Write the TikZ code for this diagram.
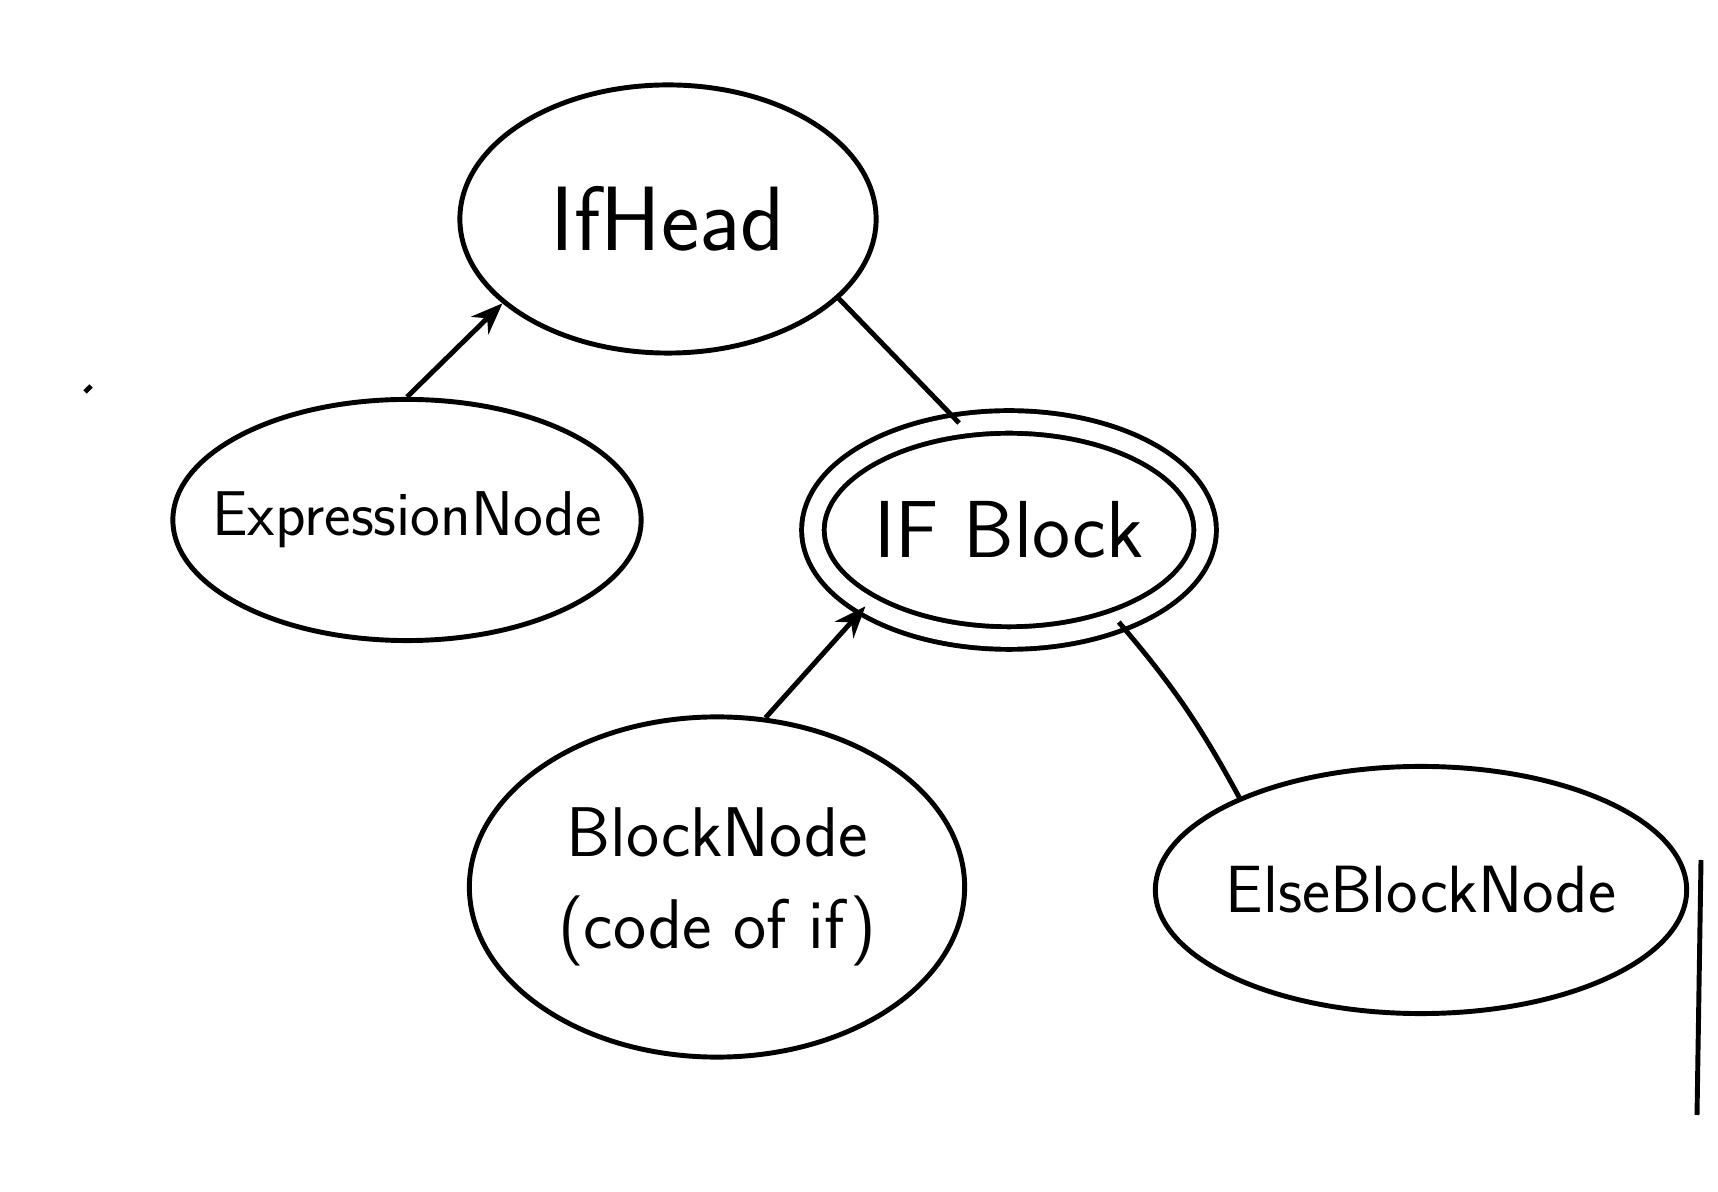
\documentclass[tikz,border=0pt]{standalone}
\usepackage{tikz}
\usetikzlibrary{shapes.geometric,arrows.meta}

\tikzset{
  oval/.style={draw, ellipse, inner sep=-4mm, align=center},
  arr/.style={-{Stealth[length=9pt,width=7pt]}}
}

\begin{document}
\begin{tikzpicture}[auto, line width=1.4pt, x=0.01cm, y=-0.01cm]

    \useasboundingbox (0,0) rectangle (1718,1192);

    \node[oval, minimum width=4.16cm, minimum height=2.68cm, font=\sffamily\fontsize{26}{30}\selectfont] (h) at (668,219) {IfHead};
    \node[oval, minimum width=4.68cm, minimum height=2.41cm, font=\sffamily\fontsize{18}{20}\selectfont] (e) at (407,520) {ExpressionNode};
    \node[oval, double, double distance=5pt, minimum width=3.92cm, minimum height=2.16cm, font=\sffamily\fontsize{23}{26}\selectfont] (i) at (1009,530) {IF Block};
    \node[oval, minimum width=4.95cm, minimum height=3.40cm, font=\sffamily\fontsize{20}{26}\selectfont] (b) at (717,887) {BlockNode\\(code of if)};
    \node[oval, minimum width=5.31cm, minimum height=2.47cm, font=\sffamily\fontsize{19}{22}\selectfont] (l) at (1421,890) {ElseBlockNode};

    \draw [arr] (e.north) to (h.207);
    \draw (h.-25) to (i.115);
    \draw [arr] (b.74) to (i.208);
    \draw (i.-40) to[bend left=6] (l.153);

    % scan edge
    \draw (1701,860) -- (1697,1115);
    \draw (85,392) -- (91,386);

\end{tikzpicture}
\end{document}
